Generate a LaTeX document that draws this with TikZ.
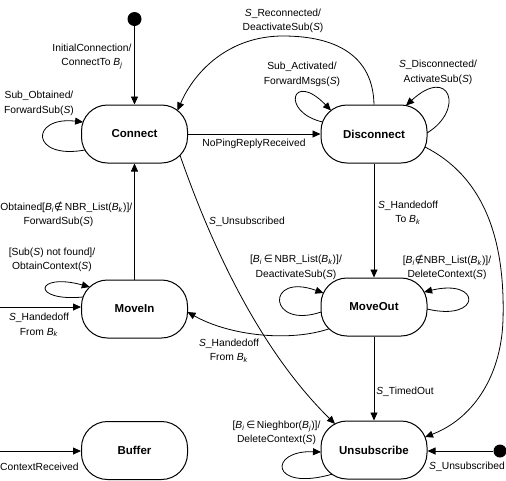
\documentclass[tikz,border=0pt]{standalone}
\usepackage{fontspec}
\setmainfont{Liberation Sans}
\newfontfamily\dvsym{DejaVu Sans}
\usetikzlibrary{arrows.meta}
\newcommand\Sv{\textit{S}}
\newcommand\Bs[1]{\textit{B}\textsubscript{\textit{#1}}}
\begin{document}
\begin{tikzpicture}[x=1pt,y=-1pt,
 stbox/.style={draw,line width=1pt,rounded corners=26pt,minimum width=106pt,minimum height=58pt,inner sep=0pt,font=\fontsize{11.5}{13}\selectfont\bfseries},
 lbl/.style={font=\fontsize{10.3}{14.5}\selectfont,align=center,inner sep=0pt},
 conn/.style={line width=0.8pt,-{Triangle[length=8pt,width=7pt]}},
 dot/.style={circle,fill=black,minimum size=14pt,inner sep=0pt}]
\useasboundingbox (0,0) rectangle (506,480);
% states
\node[stbox] (Connect) at (134.5,134) {Connect};
\node[stbox] (Disconnect) at (374,134) {Disconnect};
\node[stbox] (MoveIn) at (134.5,309) {MoveIn};
\node[stbox] (MoveOut) at (374,307) {MoveOut};
\node[stbox] (Buffer) at (134.5,450.5) {Buffer};
\node[stbox] (Unsub) at (374,450) {Unsubscribe};
\node[dot] (init) at (134.5,19) {};
\node[dot,minimum size=13pt] (fin) at (500,451) {};
\coordinate (inMI) at (0,307);
\coordinate (inBuf) at (0,451);
% straight connectors
\draw[conn] (init) -- (Connect);
\draw[conn] (MoveIn) -- (Connect);
\draw[conn] (Connect) -- (Disconnect);
\draw[conn] (Disconnect) -- (MoveOut);
\draw[conn] (MoveOut) -- (Unsub);
\draw[conn] (fin) -- (fin -| Unsub.east);
\draw[conn] (inMI) -- (inMI -| MoveIn.west);
\draw[conn] (inBuf) -- (inBuf -| Buffer.west);
% curved connectors
\draw[conn] (Disconnect.north) .. controls (373,55) and (335,36) .. (283,36) .. controls (230,36) and (195,70) .. ([shift={(43,-23.5)}]Connect.center);
\draw[conn] ([shift={(45.5,21.3)}]Connect.center) .. controls (220,270) and (270,360) .. ([shift={(-39,-26.1)}]Unsub.center);
\draw[conn] ([shift={(51,13)}]Disconnect.center) .. controls (490,180) and (505,250) .. (503,320) .. controls (501,380) and (470,420) .. ([shift={(51,-13)}]Unsub.center);
\draw[conn] ([shift={(-45,21.8)}]MoveOut.center) .. controls (290,342) and (230,336) .. ([shift={(53,3)}]MoveIn.center);
% self loops
\draw[conn] ([shift={(-49.5,16)}]Connect.center) .. controls (30,160) and (30,116) .. ([shift={(-51.4,-12)}]Connect.center);
\draw[conn] ([shift={(-51.4,-12)}]Disconnect.center) .. controls (280,112) and (292,70) .. ([shift={(-43,-23.5)}]Disconnect.center);
\draw[conn] ([shift={(53,-1)}]Disconnect.center) .. controls (465,110) and (450,65) .. ([shift={(32,-28.5)}]Disconnect.center);
\draw[conn] ([shift={(-52.9,5)}]MoveOut.center) .. controls (268,330) and (265,272) .. ([shift={(-50.6,-14)}]MoveOut.center);
\draw[conn] ([shift={(53,2)}]MoveOut.center) .. controls (482,322) and (482,278) .. ([shift={(50.1,-15)}]MoveOut.center);
\draw[conn] ([shift={(-51.4,-12)}]MoveIn.center) .. controls (30,302) and (35,272) .. ([shift={(-44.7,-22)}]MoveIn.center);
\draw[conn] ([shift={(-42,24.2)}]Unsub.center) .. controls (270,492) and (268,450) .. ([shift={(-53,2)}]Unsub.center);
% labels
\node[lbl] (l1) at (92,56.5) {InitialConnection/\\ConnectTo \Bs{j}};
\node[lbl] (l2) at (39,103.5) {Sub\_Obtained/\\ForwardSub(\Sv)};
\node[lbl] (l3) at (283,21) {\Sv\_Reconnected/\\DeactivateSub(\Sv)};
\node[lbl] (l4) at (254,144) {NoPingReplyReceived};
\node[lbl] (l5) at (302,74.5) {Sub\_Activated/\\ForwardMsgs(\Sv)};
\node[lbl] (l6) at (438,72.5) {\Sv\_Disconnected/\\ActivateSub(\Sv)};
\node[lbl] (l7) at (247,222) {\Sv\_Unsubscribed};
\node[lbl,anchor=east] (l8a) at (132.5,207) {Obtained[\Bs{i}{\dvsym ∉}\,NBR\_List(\Bs{k})]/};
\node[lbl] (l8b) at (58.5,222) {ForwardSub(\Sv)};
\node[lbl] (l9) at (52,260) {[Sub(\Sv) not found]/\\ObtainContext(\Sv)};
\node[lbl] (l10) at (39,325) {\Sv\_Handedoff\\From \Bs{k}};
\node[lbl] (l11) at (408,212.5) {\Sv\_Handedoff\\To \Bs{k}};
\node[lbl] (l12) at (296,267.5) {[\Bs{i}\,{\dvsym ∈}\,NBR\_List(\Bs{k})]/\\DeactivateSub(\Sv)};
\node[lbl] (l13) at (447,267.5) {[\Bs{i}{\dvsym ∉}NBR\_List(\Bs{k})]/\\DeleteContext(\Sv)};
\node[lbl] (l14) at (229,350.5) {\Sv\_Handedoff\\From \Bs{k}};
\node[lbl] (l15) at (405,392) {\Sv\_TimedOut};
\node[lbl] (l16) at (276.5,433) {[\Bs{i}\,{\dvsym ∈}\,Nieghbor(\Bs{j})]/\\DeleteContext(\Sv)};
\node[lbl] (l17) at (467,467) {\Sv\_Unsubscribed};
\node[lbl,anchor=west] (l18) at (0,467) {ContextReceived};
\end{tikzpicture}
\end{document}
